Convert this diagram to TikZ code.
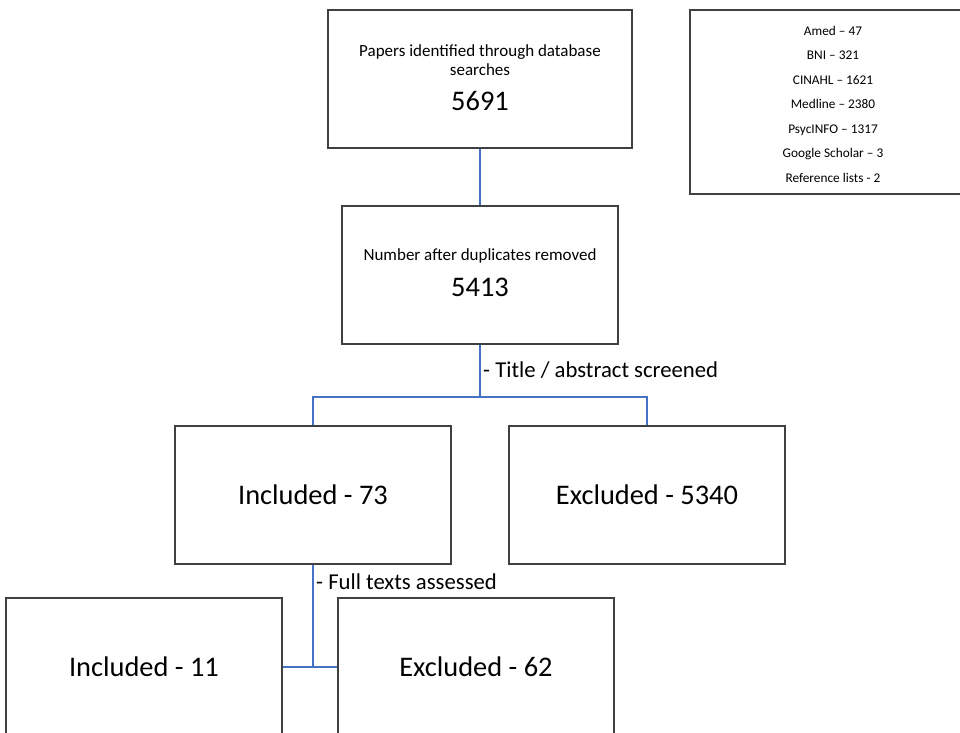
\documentclass[tikz,border=0pt]{standalone}
\usepackage{fontspec}
\setmainfont{Carlito}
\definecolor{boxgray}{HTML}{404040}
\definecolor{connblue}{HTML}{4472C4}
\begin{document}
\begin{tikzpicture}[x=1pt,y=-1pt,
  box/.style={draw=boxgray, line width=1.3pt, fill=white, inner sep=0pt, align=center, minimum width=276pt, minimum height=138pt},
  conn/.style={draw=connblue, line width=1.4pt},
  lbl/.style={anchor=west, inner sep=0pt, font=\fontsize{22.7}{26}\selectfont},
  txt/.style={inner sep=0pt, align=center},
  big/.style={font=\fontsize{28.4}{32}\selectfont}]
\useasboundingbox (0,0) rectangle (960,732);
\clip (0,0) rectangle (960,732);
\coordinate (j1) at (480,397);
\coordinate (jl) at (313,397);
\coordinate (jr) at (647,397);
\coordinate (j2) at (313,667);
\node[box, minimum width=304pt] (papers) at (480,79) {};
\node[txt, font=\fontsize{17}{19}\selectfont] (paperst) at (480,60.5) {Papers identified through database\\searches};
\node[txt, big] (papersn) at (480,101.5) {5691};
\node[box] (dup) at (480,275) {};
\node[txt, font=\fontsize{17}{19}\selectfont] (dupt) at (480,256) {Number after duplicates removed};
\node[txt, big] (dupn) at (480,287.5) {5413};
\node[box, big] (inc1) at (313,495) {Included - 73};
\node[box, big] (exc1) at (647,495) {Excluded - 5340};
\node[box, big] (inc2) at (144,667) {Included - 11};
\node[box, big] (exc2) at (476,667) {Excluded - 62};
\node[box, minimum width=286pt, minimum height=184pt] (src) at (833,102) {};
\node[txt, font=\fontsize{13.3}{24.5}\selectfont] (srct) at (833,104) {Amed – 47\\BNI – 321\\CINAHL – 1621\\Medline – 2380\\PsycINFO – 1317\\Google Scholar – 3\\Reference lists - 2};
\draw[conn] (papers.south) -- (dup.north);
\draw[conn] (dup.south) -- (j1);
\draw[conn] (inc1.north) -- (jl) -- (jr) -- (exc1.north);
\draw[conn] (inc1.south) -- (j2);
\draw[conn] (inc2.east) -- (exc2.west);
\node[lbl] (lab1) at (483,370) {- Title / abstract screened};
\node[lbl] (lab2) at (316,582) {- Full texts assessed};
\end{tikzpicture}
\end{document}
